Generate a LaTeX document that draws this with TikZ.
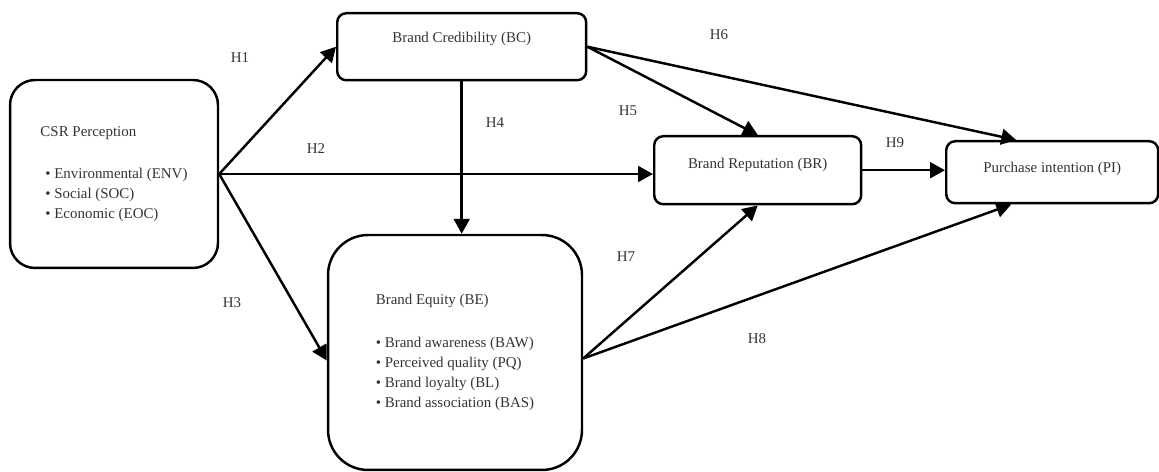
\documentclass[tikz,border=0pt]{standalone}
\usepackage{fontspec}
\setmainfont{Liberation Serif}
\usetikzlibrary{arrows.meta}

\begin{document}
\begin{tikzpicture}[x=0.02cm, y=-0.02cm,
    font=\fontsize{8.5}{11.3}\selectfont,
    every node/.style={text=black!80},
    >={Triangle[length=8.5pt, width=9pt]},
    conn/.style={->, line width=1.4pt},
    bigbox/.style={draw, line width=1.4pt, align=left},
    smallbox/.style={draw, line width=1.4pt, rounded corners=0.18cm, inner ysep=0pt, anchor=north west}]
    \useasboundingbox (0,0) rectangle (1159,472);
    % constructs
    \node[bigbox, rounded corners=0.5cm, minimum width=4.16cm, minimum height=3.76cm] at (114,174) (csr) {CSR Perception\\[13pt]\hspace*{2.8pt}\textbullet\ Environmental (ENV)\\\hspace*{2.8pt}\textbullet\ Social (SOC)\\\hspace*{2.8pt}\textbullet\ Economic (EOC)};
    \node[smallbox, minimum width=4.98cm, text height=0.58cm, text depth=0.76cm] at (336,12) (bc) {Brand Credibility (BC)};
    \node[bigbox, rounded corners=0.8cm, minimum width=5.08cm, minimum height=4.7cm] at (455,352.5) (be) {Brand Equity (BE)\\[13pt]\textbullet\ Brand awareness (BAW)\\\textbullet\ Perceived quality (PQ)\\\textbullet\ Brand loyalty (BL)\\\textbullet\ Brand association (BAS)};
    \node[smallbox, minimum width=4.14cm, text height=0.64cm, text depth=0.72cm] at (653,135) (br) {Brand Reputation (BR)};
    \node[smallbox, minimum width=4.24cm, text height=0.62cm, text depth=0.62cm] at (945,140) (pi) {Purchase intention (PI)};
    % hypotheses
    \draw[conn] (csr.east) to (bc.west);
    \draw[conn] (csr.east) to (csr.east -| br.west);
    \draw[conn] (csr.east) to ([yshift=-0.16cm]be.west);
    \draw[conn] (bc.south) to (bc.south |- be.north);
    \draw[conn] (bc.east) to (br.north);
    \draw[conn] (bc.east) to ([xshift=-0.72cm]pi.north);
    \draw[conn] ([yshift=-0.12cm]be.east) to (br.south);
    \draw[conn] ([yshift=-0.12cm]be.east) to ([xshift=-0.82cm]pi.south);
    \draw[conn] (br.east) to (br.east -| pi.west);
    \node at (240,58) (h1) {H1};
    \node at (316,149) (h2) {H2};
    \node at (232,303) (h3) {H3};
    \node at (495,123) (h4) {H4};
    \node at (628,111) (h5) {H5};
    \node at (719,35) (h6) {H6};
    \node at (626,257) (h7) {H7};
    \node at (757,339) (h8) {H8};
    \node at (895,143) (h9) {H9};
\end{tikzpicture}
\end{document}
